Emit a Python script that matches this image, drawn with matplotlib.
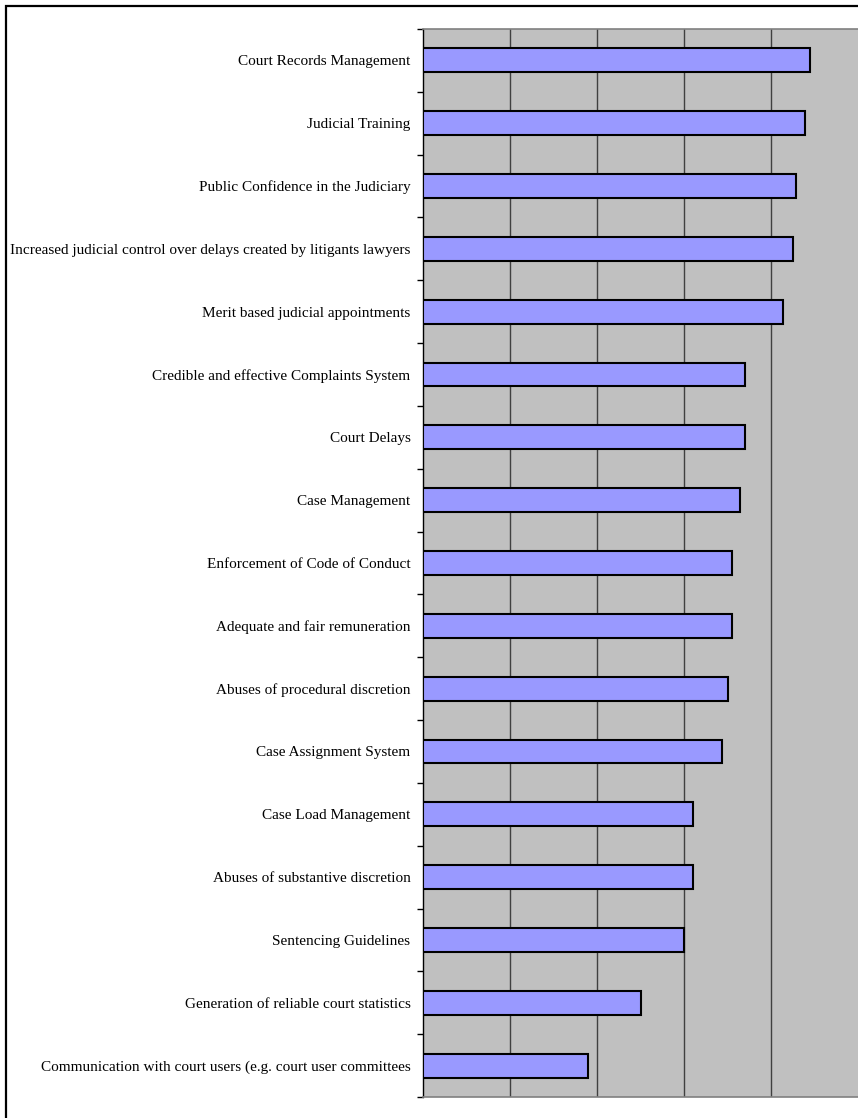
import matplotlib
matplotlib.use("Agg")
import matplotlib.pyplot as plt
from matplotlib.patches import Rectangle
import numpy as np

# survey items, top to bottom, with their mean scores
categories = [
    "Court Records Management",
    "Judicial Training",
    "Public Confidence in the Judiciary",
    "Increased judicial control over delays created by litigants lawyers",
    "Merit based judicial appointments",
    "Credible and effective Complaints System",
    "Court Delays",
    "Case Management",
    "Enforcement of Code of Conduct",
    "Adequate and fair remuneration",
    "Abuses of procedural discretion",
    "Case Assignment System",
    "Case Load Management",
    "Abuses of substantive discretion",
    "Sentencing Guidelines",
    "Generation of reliable court statistics",
    "Communication with court users (e.g. court user committees",
]
scores = [4.45, 4.39, 4.29, 4.25, 4.14, 3.70, 3.70, 3.64, 3.55, 3.55,
          3.50, 3.44, 3.10, 3.10, 3.00, 2.51, 1.90]
grid_values = [1, 2, 3, 4]

W, H = 858, 1118
fig = plt.figure(figsize=(W / 100, H / 100), dpi=100)
fig.patch.set_facecolor("white")

ax = fig.add_axes([423 / W, 1 - 1097 / H, 1 - 423 / W, (1097 - 29) / H])
ax.set_facecolor("#c0c0c0")

n = len(categories)
ypos = np.arange(n)
ax.barh(ypos, scores, height=0.38, color="#9999ff", edgecolor="black",
        linewidth=1.5, zorder=3)

ax.set_xlim(0, 5)
ax.set_ylim(n - 0.5, -0.5)

for g in grid_values:
    ax.axvline(g, color="#404040", linewidth=1.0, zorder=1)

ax.set_xticks([])
ax.set_yticks(ypos)
ax.set_yticklabels(categories, family="Liberation Serif", fontsize=11.0)
ax.tick_params(axis="y", which="major", length=0, pad=9)
ax.set_yticks(np.arange(n + 1) - 0.5, minor=True)
ax.tick_params(axis="y", which="minor", length=4, width=1, color="black")

for side in ["top", "bottom"]:
    ax.spines[side].set_color("#808080")
    ax.spines[side].set_linewidth(1.2)
ax.spines["right"].set_visible(False)
ax.spines["left"].set_color("black")
ax.spines["left"].set_linewidth(1.0)

# outer chart frame, running off the right and bottom edges
fig.patches.append(Rectangle((6 / W, -0.05), 1.2, 1 - 6 / H + 0.05,
                             transform=fig.transFigure, fill=False,
                             edgecolor="black", linewidth=1.6))

fig.savefig("out.png", dpi=100)
